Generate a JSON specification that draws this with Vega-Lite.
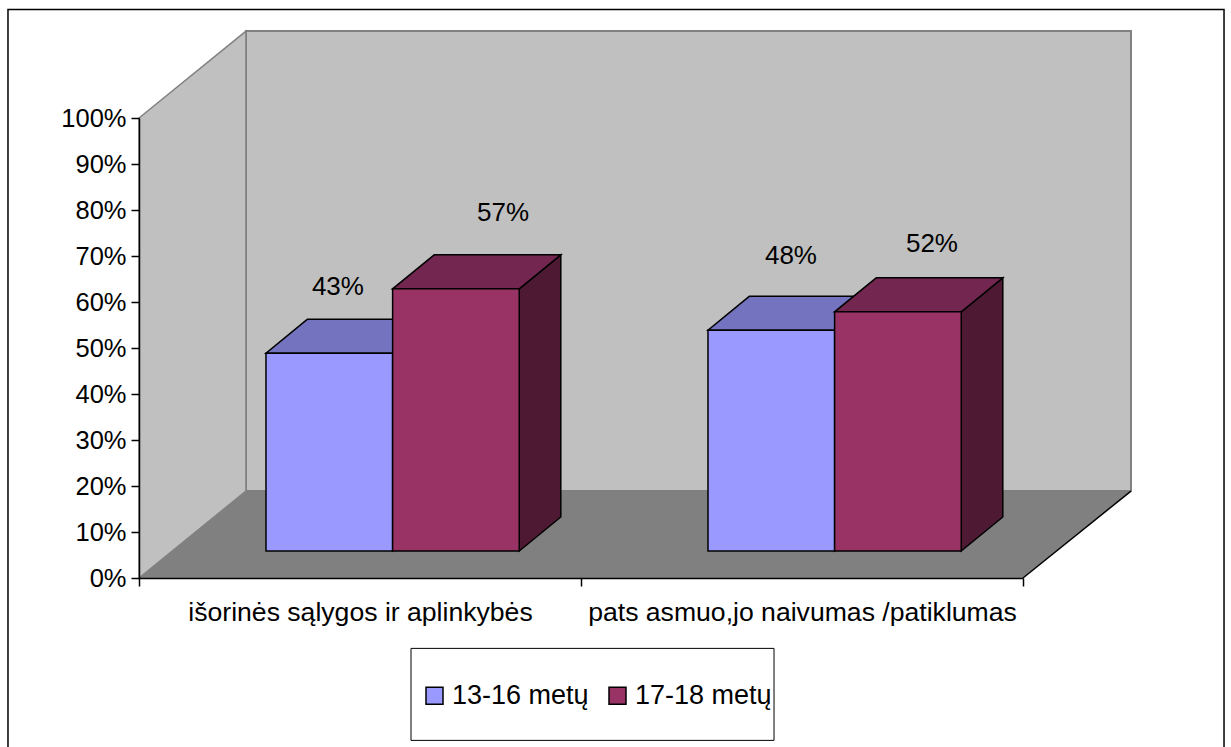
{
"$schema":"https://vega.github.io/schema/vega-lite/v6.json",
"width":884,"height":460,
"padding":{"left":139,"top":118,"right":208,"bottom":169},
"autosize":{"type":"none"},
"background":"white",
"config":{"view":{"stroke":null},"font":"Liberation Sans"},
"datasets":{
"bars":[
{"category":"išorinės sąlygos ir aplinkybės","series":"13-16 metų","value":43},
{"category":"išorinės sąlygos ir aplinkybės","series":"17-18 metų","value":57},
{"category":"pats asmuo,jo naivumas /patiklumas","series":"13-16 metų","value":48},
{"category":"pats asmuo,jo naivumas /patiklumas","series":"17-18 metų","value":52}
],
"edges":[{"edge":0},{"edge":1}]
},
"resolve":{"scale":{"x":"independent"},"axis":{"x":"independent"}},
"layer":[
{"layer":[
{"data":{"values":[{"part":"frame"}]},"mark":{"type":"rect","fill":null,"stroke":"#000000","strokeWidth":1.5},
"encoding":{"x":{"datum":-0.2964,"type":"quantitative","scale":{"domain":[0,2],"nice":false,"zero":false},"axis":null},"x2":{"datum":2.4548},
"y":{"datum":123.6,"type":"quantitative","scale":{"domain":[0,100],"nice":false},"axis":{"title":null,"values":[0,10,20,30,40,50,60,70,80,90,100],"labelExpr":"datum.value+'%'","labelFontSize":25.5,"labelColor":"#000000","labelPadding":5,"tickSize":8,"tickColor":"#000000","domainColor":"#000000","tickWidth":1.5,"domainWidth":1.5,"grid":false,"zindex":1}},"y2":{"datum":-40}}},
{"data":{"values":[{"part":"wall"}]},"mark":{"type":"rect","fill":"#c0c0c0","stroke":"#808080","strokeWidth":2},
"encoding":{"x":{"datum":0.242,"type":"quantitative"},"x2":{"datum":2.2443},"y":{"datum":118.9,"type":"quantitative"},"y2":{"datum":18.9}}},
{"data":{"name":"edges"},"transform":[{"calculate":"datum.edge*0.242","as":"x"},{"calculate":"datum.edge*18.9","as":"y"},{"calculate":"100+datum.edge*18.9","as":"y2"}],
"mark":{"type":"area","fill":"#c0c0c0","stroke":"#808080","strokeWidth":1.5},
"encoding":{"x":{"field":"x","type":"quantitative"},"y":{"field":"y","type":"quantitative"},"y2":{"field":"y2"}}},
{"data":{"name":"edges"},"transform":[{"calculate":"datum.edge*0.242","as":"x"},{"calculate":"2+datum.edge*0.2443","as":"x2"},{"calculate":"datum.edge*18.9","as":"y"}],
"mark":{"type":"area","orient":"horizontal","fill":"#808080"},
"encoding":{"x":{"field":"x","type":"quantitative"},"x2":{"field":"x2"},"y":{"field":"y","type":"quantitative"}}},
{"data":{"name":"edges"},"transform":[{"calculate":"2+datum.edge*0.2443","as":"x"},{"calculate":"datum.edge*18.9","as":"y"}],
"mark":{"type":"line","color":"#000000","strokeWidth":1.5},
"encoding":{"x":{"field":"x","type":"quantitative"},"y":{"field":"y","type":"quantitative"}}},
{"data":{"name":"bars"},"transform":[
{"calculate":"indexof(['išorinės sąlygos ir aplinkybės','pats asmuo,jo naivumas /patiklumas'],datum.category)","as":"c"},
{"calculate":"indexof(['13-16 metų','17-18 metų'],datum.series)","as":"s"},
{"calculate":"datum.c+0.2873+datum.s*0.2865","as":"x0"},
{"calculate":"datum.x0+0.2865","as":"x1"},
{"calculate":"[0,1]","as":"edge"},{"flatten":["edge"]},
{"calculate":"datum.x1+datum.edge*0.094","as":"sx"},
{"calculate":"5.87+datum.edge*7.39","as":"sy"},
{"calculate":"datum.sy+datum.value","as":"sy2"},
{"calculate":"['#4d4d80','#4d1933'][datum.s]","as":"shade"}],
"mark":{"type":"area","stroke":"#000000","strokeWidth":1.5},
"encoding":{"x":{"field":"sx","type":"quantitative"},"y":{"field":"sy","type":"quantitative"},"y2":{"field":"sy2"},"fill":{"field":"shade","type":"nominal","scale":null,"legend":null},"detail":{"field":"x0"}}},
{"data":{"name":"bars"},"transform":[
{"calculate":"indexof(['išorinės sąlygos ir aplinkybės','pats asmuo,jo naivumas /patiklumas'],datum.category)","as":"c"},
{"calculate":"indexof(['13-16 metų','17-18 metų'],datum.series)","as":"s"},
{"calculate":"datum.c+0.2873+datum.s*0.2865","as":"x0"},
{"calculate":"[0,1]","as":"edge"},{"flatten":["edge"]},
{"calculate":"datum.x0+datum.edge*0.094","as":"tx"},
{"calculate":"datum.tx+0.2865","as":"tx2"},
{"calculate":"5.87+datum.value+datum.edge*7.39","as":"ty"},
{"calculate":"['#7373bf','#732650'][datum.s]","as":"shade"}],
"mark":{"type":"area","orient":"horizontal","stroke":"#000000","strokeWidth":1.5},
"encoding":{"x":{"field":"tx","type":"quantitative"},"x2":{"field":"tx2"},"y":{"field":"ty","type":"quantitative"},"fill":{"field":"shade","type":"nominal","scale":null,"legend":null},"detail":{"field":"x0"}}},
{"data":{"name":"bars"},"transform":[
{"calculate":"indexof(['išorinės sąlygos ir aplinkybės','pats asmuo,jo naivumas /patiklumas'],datum.category)","as":"c"},
{"calculate":"indexof(['13-16 metų','17-18 metų'],datum.series)","as":"s"},
{"calculate":"datum.c+0.2873+datum.s*0.2865","as":"x0"},
{"calculate":"datum.x0+0.2865","as":"x1"},
{"calculate":"5.87+datum.value","as":"top"},
{"calculate":"5.87","as":"base"}],
"mark":{"type":"rect","stroke":"#000000","strokeWidth":1.5},
"encoding":{"x":{"field":"x0","type":"quantitative"},"x2":{"field":"x1"},"y":{"field":"base","type":"quantitative"},"y2":{"field":"top"},
"color":{"field":"series","type":"nominal","scale":{"domain":["13-16 metų","17-18 metų"],"range":["#9999ff","#993366"]},
"legend":{"title":null,"orient":"none","legendX":282,"legendY":564,"direction":"horizontal","columns":2,"symbolType":"square","symbolSize":289,"symbolStrokeColor":"#000000","symbolStrokeWidth":1.5,"symbolOpacity":1,"labelFontSize":27,"labelColor":"#000000","labelOffset":4,"columnPadding":15,"labelLimit":300,"padding":0}}}},
{"data":{"name":"bars"},"transform":[
{"calculate":"indexof(['išorinės sąlygos ir aplinkybės','pats asmuo,jo naivumas /patiklumas'],datum.category)","as":"c"},
{"calculate":"indexof(['13-16 metų','17-18 metų'],datum.series)","as":"s"},
{"calculate":"[0.450,0.8235,1.475,1.794][datum.c*2+datum.s]","as":"lx"},
{"calculate":"[63.2,79.3,69.9,72.7][datum.c*2+datum.s]","as":"ly"},
{"calculate":"datum.value+'%'","as":"label"}],
"mark":{"type":"text","fontSize":26,"color":"#000000","baseline":"middle","align":"center"},
"encoding":{"x":{"field":"lx","type":"quantitative"},"y":{"field":"ly","type":"quantitative"},"text":{"field":"label"}}},
{"data":{"values":[{"part":"legend box"}]},"mark":{"type":"rect","fill":"#ffffff","stroke":"#000000","strokeWidth":1},
"encoding":{"x":{"datum":0.6154,"type":"quantitative"},"x2":{"datum":1.4367},"y":{"datum":-15.3,"type":"quantitative"},"y2":{"datum":-35.3}}}
]},
{"data":{"name":"bars"},"mark":{"type":"point","opacity":0},
"encoding":{"x":{"field":"category","type":"nominal","sort":null,"scale":{"type":"band","paddingInner":0,"paddingOuter":0},"axis":{"title":null,"labelAngle":0,"labelFontSize":26.6,"labelColor":"#000000","labelLimit":500,"labelPadding":13,"tickBand":"extent","tickSize":8,"tickColor":"#000000","tickWidth":1.5,"domainColor":"#000000","domainWidth":1.5,"zindex":1,"orient":"bottom"}}}}
]}
